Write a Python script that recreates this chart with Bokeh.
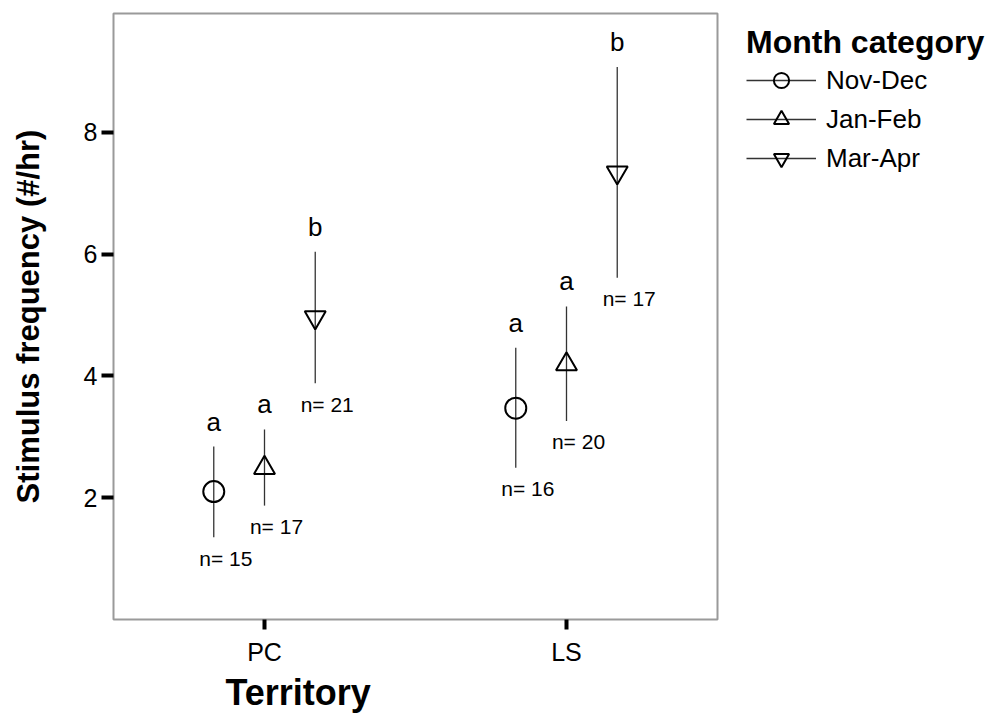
from bokeh.plotting import figure
from bokeh.layouts import row
from bokeh.models import (ColumnDataSource, FactorRange, Range1d, FixedTicker,
                          Legend, LegendItem, Title)
from bokeh.transform import dodge
from bokeh.core.properties import value
from bokeh.embed import file_html
from bokeh.resources import INLINE

FONT = "Liberation Sans"

# Territories on the x axis and the three month categories (series)
territories = ["PC", "LS"]
month_categories = ["Nov-Dec", "Jan-Feb", "Mar-Apr"]

# Mean stimulus frequency (#/hr) with 95% CI bounds, per territory
nov_dec_mean = [2.10, 3.47]
nov_dec_low = [1.35, 2.49]
nov_dec_high = [2.84, 4.46]
nov_dec_n = [15, 16]
nov_dec_group = ["a", "a"]

jan_feb_mean = [2.49, 4.19]
jan_feb_low = [1.87, 3.26]
jan_feb_high = [3.12, 5.14]
jan_feb_n = [17, 20]
jan_feb_group = ["a", "a"]

mar_apr_mean = [4.96, 7.34]
mar_apr_low = [3.88, 5.61]
mar_apr_high = [6.04, 9.07]
mar_apr_n = [21, 17]
mar_apr_group = ["b", "b"]

y_ticks = [2, 4, 6, 8]

series = [
    (month_categories[0], nov_dec_mean, nov_dec_low, nov_dec_high, nov_dec_n, nov_dec_group, "circle", -0.168),
    (month_categories[1], jan_feb_mean, jan_feb_low, jan_feb_high, jan_feb_n, jan_feb_group, "triangle", 0.0),
    (month_categories[2], mar_apr_mean, mar_apr_low, mar_apr_high, mar_apr_n, mar_apr_group, "inverted_triangle", 0.168),
]

BAR_STYLE = dict(line_color="#333333", line_width=1.3)
DOT_STYLE = dict(fill_color=None, line_color="black", line_width=2)

p = figure(width=720, height=713,
           x_range=FactorRange(*territories, range_padding=0),
           y_range=Range1d(0, 9.95),
           output_backend="svg", toolbar_location=None,
           min_border_left=113, min_border_right=3,
           min_border_top=13, min_border_bottom=94)

p.background_fill_color = "white"
p.border_fill_color = "white"
p.outline_line_color = "#9a9a9a"
p.outline_line_width = 2
p.xgrid.visible = False
p.ygrid.visible = False

sources = []
for name, mean, low, high, n, group, marker, shift in series:
    src = ColumnDataSource(dict(
        territory=territories, mean=mean, low=low, high=high,
        n_label=[f"n= {k}" for k in n], group=group,
    ))
    sources.append(src)
    xs = dodge("territory", shift, range=p.x_range)
    p.segment(x0=xs, y0="low", x1=xs, y1="high", source=src, **BAR_STYLE)
    p.scatter(x=xs, y="mean", source=src, marker=marker, size=21, **DOT_STYLE)
    p.text(x=xs, y="high", text="group", source=src, y_offset=-25,
           text_align="center", text_baseline="alphabetic",
           text_font=value(FONT), text_font_size="26px", text_color="black")
    p.text(x=xs, y="low", text="n_label", source=src, x_offset=12, y_offset=21,
           text_align="center", text_baseline="middle",
           text_font=value(FONT), text_font_size="21px", text_color="black")

# axes
p.yaxis.ticker = FixedTicker(ticks=y_ticks)
for ax in (p.xaxis[0], p.yaxis[0]):
    ax.axis_line_color = None
    ax.minor_tick_line_color = None
    ax.major_tick_in = 0
    ax.major_tick_line_color = "black"
    ax.major_tick_line_width = 4
    ax.major_label_text_font = FONT
    ax.major_label_text_font_size = "25px"
    ax.major_label_text_color = "black"
p.xaxis.major_tick_out = 10
p.xaxis.major_label_standoff = 8
p.yaxis.major_tick_out = 12
p.yaxis.major_label_standoff = 4

p.yaxis.axis_label = "Stimulus frequency (#/hr)"
p.yaxis.axis_label_text_font = FONT
p.yaxis.axis_label_text_font_style = "bold"
p.yaxis.axis_label_text_font_size = "31px"
p.yaxis.axis_label_text_color = "black"
p.yaxis.axis_label_standoff = 35

p.add_layout(Title(text="Territory", align="left", offset=112,
                   text_font=FONT, text_font_style="bold",
                   text_font_size="36px", text_color="black",
                   standoff=2), "below")

# legend panel: its ranges sit away from the data, so only the legend shows
lp = figure(width=275, height=713, output_backend="svg", toolbar_location=None,
            x_axis_location=None, y_axis_location=None, min_border=0,
            x_range=Range1d(-2, -1), y_range=Range1d(-2, -1))
lp.grid.visible = False
lp.outline_line_color = None
lp.background_fill_color = "white"
lp.border_fill_color = "white"

legend_items = []
for (name, mean, low, high, n, group, marker, shift), src in zip(series, sources):
    bars = lp.segment(x0="mean", y0="low", x1="mean", y1="high", source=src, **BAR_STYLE)
    dots = lp.scatter(x="mean", y="mean", source=src, marker=marker, size=17, **DOT_STYLE)
    legend_items.append(LegendItem(label=name, renderers=[bars, dots]))

legend = Legend(items=legend_items, location=(26, 442), margin=0,
                title="Month category", title_text_font=FONT,
                title_text_font_style="bold", title_text_font_size="32px",
                title_text_color="black", title_standoff=0,
                label_text_font=FONT, label_text_font_size="26px",
                label_text_color="black",
                glyph_width=70, glyph_height=38, label_height=38,
                label_standoff=10, spacing=1, padding=10,
                border_line_color=None, background_fill_alpha=0)
lp.add_layout(legend, "center")

open("out.html", "w").write(file_html(row(p, lp), INLINE))
